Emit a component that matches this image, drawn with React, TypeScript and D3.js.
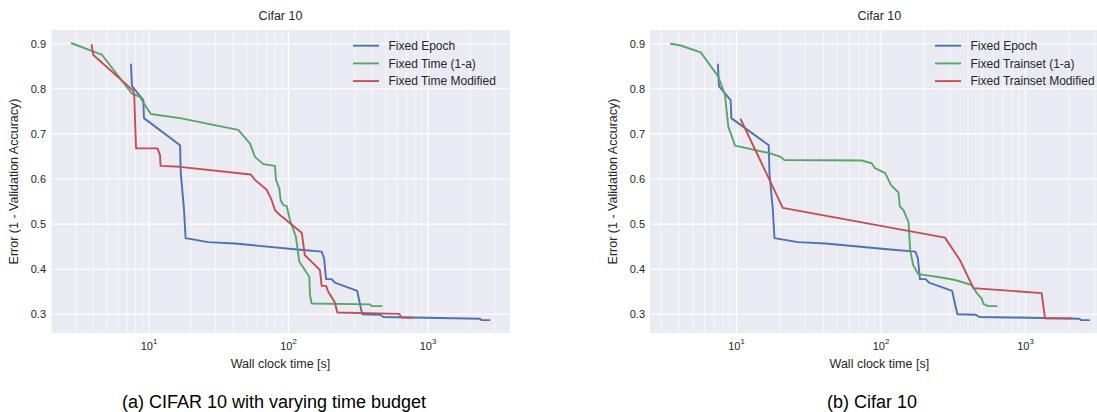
import React from "react";
import * as d3 from "d3";

// Fixed Epoch is the same run in both panels
const fixedEpochTime = [7.43, 7.55, 9.1, 9.2, 16.7, 16.9, 17.8, 18.3, 26.6, 41.3, 121, 173, 180, 186, 204, 215, 311, 326, 338, 453, 479, 785, 2360, 2427, 2754];
const fixedEpochError = [0.854, 0.806, 0.775, 0.735, 0.675, 0.613, 0.535, 0.469, 0.46, 0.457, 0.443, 0.439, 0.424, 0.378, 0.378, 0.37, 0.352, 0.321, 0.3, 0.299, 0.294, 0.293, 0.29, 0.287, 0.287];

const fixedTimeTime = [2.79, 4.58, 7.52, 8.61, 9.36, 10.3, 16.7, 43.6, 52.9, 57.5, 66, 80, 81.3, 85.9, 87.9, 91.8, 97, 102.5, 113, 119.5, 141, 142.6, 146.6, 384, 395, 466];
const fixedTimeError = [0.901, 0.876, 0.79, 0.782, 0.764, 0.744, 0.735, 0.709, 0.679, 0.649, 0.633, 0.629, 0.598, 0.579, 0.553, 0.542, 0.54, 0.509, 0.472, 0.417, 0.383, 0.343, 0.324, 0.322, 0.318, 0.318];

const fixedTimeModTime = [3.88, 3.99, 7.71, 7.85, 7.94, 8.08, 11.5, 12.0, 12.1, 16.7, 53.6, 57.5, 69.8, 75.8, 80, 86.9, 102.5, 124.4, 131, 150.6, 168, 173, 186, 193, 215, 224, 622, 647, 785];
const fixedTimeModError = [0.897, 0.875, 0.796, 0.782, 0.731, 0.668, 0.668, 0.653, 0.629, 0.627, 0.61, 0.598, 0.576, 0.553, 0.531, 0.52, 0.502, 0.481, 0.431, 0.413, 0.398, 0.363, 0.363, 0.35, 0.326, 0.304, 0.301, 0.293, 0.292];

const fixedTrainsetTime = [3.51, 4.11, 5.65, 7.48, 8.32, 8.55, 8.77, 9.77, 17.1, 20.2, 21.4, 73.5, 86.2, 90.8, 107, 117, 132, 135, 143, 151, 155, 159, 167, 181, 256, 325, 424, 460, 498, 511, 553, 632];
const fixedTrainsetError = [0.9, 0.896, 0.881, 0.827, 0.786, 0.749, 0.716, 0.674, 0.657, 0.649, 0.642, 0.641, 0.635, 0.624, 0.613, 0.587, 0.57, 0.539, 0.531, 0.513, 0.505, 0.443, 0.409, 0.389, 0.382, 0.376, 0.365, 0.347, 0.335, 0.323, 0.318, 0.318];

const fixedTrainsetModTime = [10.7, 20.9, 277, 352, 436, 1294, 1365, 2090];
const fixedTrainsetModError = [0.732, 0.536, 0.47, 0.42, 0.358, 0.347, 0.291, 0.291];

const yTicks = [0.3, 0.4, 0.5, 0.6, 0.7, 0.8, 0.9];
const xDecades = [1, 2, 3];

const BLUE = "#4C72B0";
const GREEN = "#55A868";
const RED = "#C44E52";
const TEXT = "#262626";
const FONT = "Arial, 'Liberation Sans', sans-serif";

const top = 30;
const bottom = 333;

const panels = [
  {
    id: "a",
    left: 51,
    right: 510,
    logDomain: [0.2975, 3.588],
    yLabelX: 18,
    legendX: 353,
    caption: "(a) CIFAR 10 with varying time budget",
    captionX: 274,
    series: [
      { name: "Fixed Epoch", color: BLUE, t: fixedEpochTime, e: fixedEpochError },
      { name: "Fixed Time (1-a)", color: GREEN, t: fixedTimeTime, e: fixedTimeError },
      { name: "Fixed Time Modified", color: RED, t: fixedTimeModTime, e: fixedTimeModError },
    ],
  },
  {
    id: "b",
    left: 650,
    right: 1108.7,
    logDomain: [0.401, 3.576],
    yLabelX: 617,
    legendX: 935,
    caption: "(b) Cifar 10",
    captionX: 872,
    series: [
      { name: "Fixed Epoch", color: BLUE, t: fixedEpochTime, e: fixedEpochError },
      { name: "Fixed Trainset (1-a)", color: GREEN, t: fixedTrainsetTime, e: fixedTrainsetError },
      { name: "Fixed Trainset Modified", color: RED, t: fixedTrainsetModTime, e: fixedTrainsetModError },
    ],
  },
];

const y = d3.scaleLinear().domain([0.2585, 0.9304]).range([bottom, top]);

const Panel = ({ p }) => {
  const x = d3
    .scaleLog()
    .domain([10 ** p.logDomain[0], 10 ** p.logDomain[1]])
    .range([p.left, p.right]);
  const [d0, d1] = x.domain();

  // minor gridlines at 2..9 x 10^d
  const minor = [];
  for (let d = 0; d <= 3; d++) {
    for (let k = 2; k <= 9; k++) {
      const v = k * 10 ** d;
      if (v > d0 && v < d1) minor.push(v);
    }
  }

  const mid = (p.left + p.right) / 2;

  return (
    <g>
      <defs>
        <clipPath id={`clip-${p.id}`}>
          <rect x={p.left} y={top} width={p.right - p.left} height={bottom - top} />
        </clipPath>
      </defs>
      <rect x={p.left} y={top} width={p.right - p.left} height={bottom - top} fill="#EAEAF2" />
      {minor.map((v) => (
        <line key={v} x1={x(v)} x2={x(v)} y1={top} y2={bottom} stroke="#fff" strokeWidth={0.6} />
      ))}
      {xDecades.map((d) => (
        <line key={d} x1={x(10 ** d)} x2={x(10 ** d)} y1={top} y2={bottom} stroke="#fff" strokeWidth={1.1} />
      ))}
      {yTicks.map((v) => (
        <line key={v} x1={p.left} x2={p.right} y1={y(v)} y2={y(v)} stroke="#fff" strokeWidth={1.1} />
      ))}

      <g clipPath={`url(#clip-${p.id})`}>
        {p.series.map((s) => {
          const pts = s.t.map((t, i) => [x(t), y(s.e[i])] as [number, number]);
          return (
            <path
              key={s.name}
              d={d3.line()(pts) || ""}
              fill="none"
              stroke={s.color}
              strokeWidth={1.9}
              strokeLinejoin="round"
              strokeLinecap="round"
            />
          );
        })}
      </g>

      {yTicks.map((v) => (
        <text key={v} x={p.left - 5} y={y(v) + 4} textAnchor="end" fontSize={11} fill={TEXT}>
          {v.toFixed(1)}
        </text>
      ))}
      {xDecades.map((d) => (
        <text key={d} x={x(10 ** d)} y={350} textAnchor="middle" fontSize={11} fill={TEXT}>
          10
          <tspan fontSize={7.8} dy={-6}>
            {d}
          </tspan>
        </text>
      ))}

      <text x={mid} y={20} textAnchor="middle" fontSize={12.5} fill={TEXT}>
        Cifar 10
      </text>
      <text x={mid} y={367.5} textAnchor="middle" fontSize={12.5} fill={TEXT}>
        Wall clock time [s]
      </text>
      <text
        transform={`translate(${p.yLabelX},${(top + bottom) / 2}) rotate(-90)`}
        textAnchor="middle"
        fontSize={12.5}
        fill={TEXT}
      >
        Error (1 - Validation Accuracy)
      </text>

      {p.series.map((s, i) => {
        const ly = 45.7 + i * 17.7;
        return (
          <g key={s.name}>
            <line x1={p.legendX} x2={p.legendX + 26} y1={ly} y2={ly} stroke={s.color} strokeWidth={1.9} />
            <text x={p.legendX + 35.5} y={ly + 4.3} fontSize={12} fill={TEXT}>
              {s.name}
            </text>
          </g>
        );
      })}

      <text x={p.captionX} y={408} textAnchor="middle" fontSize={18} fill="#000">
        {p.caption}
      </text>
    </g>
  );
};

export default function App() {
  return (
    <svg
      width={1097}
      height={412}
      style={{ position: "absolute", left: 0, top: 0, background: "#fff" }}
      fontFamily={FONT}
    >
      {panels.map((p) => (
        <Panel key={p.id} p={p} />
      ))}
    </svg>
  );
}
